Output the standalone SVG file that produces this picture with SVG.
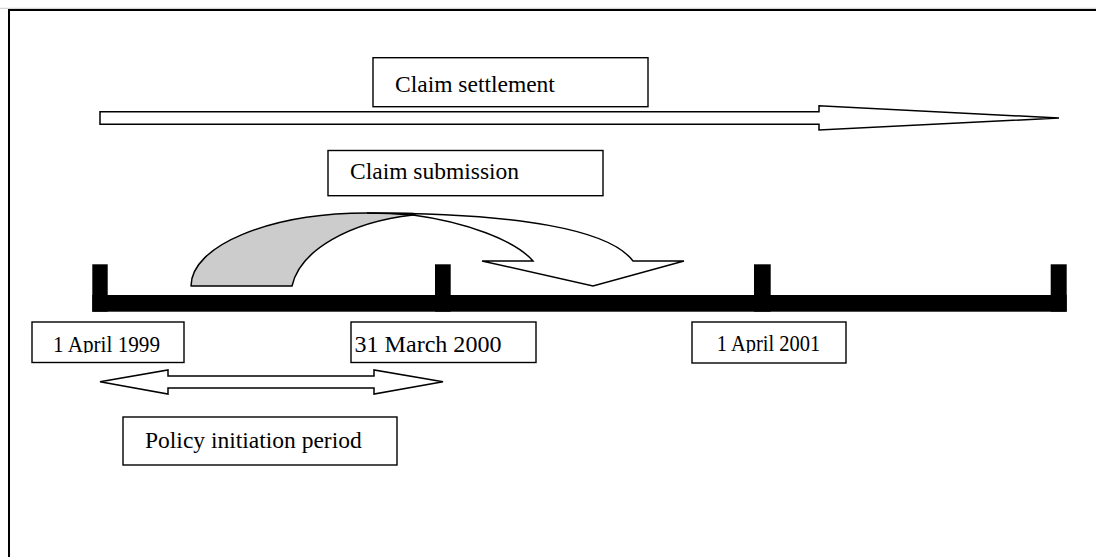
<svg xmlns="http://www.w3.org/2000/svg" width="1096" height="557" viewBox="0 0 1096 557">
<style>
.box{fill:#fff;stroke:#000;stroke-width:1.4}
.lbl{font-family:"Liberation Serif","Times New Roman",serif;font-size:23.5px;fill:#000}
.arr{fill:#fff;stroke:#000;stroke-width:1.5;stroke-linejoin:miter}
.tl{fill:#000}
</style>
<defs>
<clipPath id="c1"><rect x="32" y="322" width="152" height="31"/></clipPath>
<clipPath id="c2"><rect x="351" y="322" width="185" height="31"/></clipPath>
<clipPath id="c3"><rect x="692" y="322" width="154" height="31"/></clipPath>
</defs>
<rect width="1096" height="557" fill="#fff"/>
<g id="frame">
<line x1="0" y1="8.3" x2="1096" y2="8.3" stroke="#ccc" stroke-width="1"/>
<line x1="8" y1="10" x2="1096" y2="10" stroke="#000" stroke-width="2"/>
<line x1="9" y1="9" x2="9" y2="557" stroke="#000" stroke-width="2"/>
</g>
<g id="timeline">
<rect class="tl" x="92.3" y="295" width="974.4" height="16.7"/>
<rect class="tl" x="92.3" y="264.3" width="15.4" height="47.4"/>
<rect class="tl" x="435" y="264.3" width="15.7" height="47.4"/>
<rect class="tl" x="754" y="264.3" width="16.7" height="47.4"/>
<rect class="tl" x="1050.7" y="264.3" width="16" height="47.4"/>
</g>
<g id="connectors">
<polygon id="settlement-arrow" class="arr" points="100,111.7 819,111.7 819,105.7 1059,118 819,130 819,124.3 100,124.3"/>
<g id="submission-arrow">
<path d="M191,286 C191,245.7 269.8,213 367,213 L413,213.5 L413,215 C350,222 300,250 292,286 Z" fill="#ccc" stroke="#000" stroke-width="1.5" stroke-linejoin="round"/>
<path d="M367,213 C520,213 610,230 633,261 L684,261 L593,286 L482,261 L533,261 C515,240 465,222 413,215 C395,213.5 380,213 367,213 Z" fill="#fff" stroke="#000" stroke-width="1.5" stroke-linejoin="miter"/>
</g>
<polygon id="policy-arrow" class="arr" points="100,381.7 168,370 168,376 374,376 374,370 443,381.7 374,394 374,388 168,388 168,394"/>
</g>
<g id="claim-settlement">
<rect class="box" x="373" y="57.7" width="275" height="49"/>
<text class="lbl" x="395" y="91.5">Claim settlement</text>
</g>
<g id="claim-submission">
<rect class="box" x="328" y="150.5" width="275" height="45.2"/>
<text class="lbl" x="350" y="178.5">Claim submission</text>
</g>
<g id="date-1999">
<rect class="box" x="32" y="322" width="152" height="40.5"/>
<text class="lbl" x="53" y="352" textLength="107" lengthAdjust="spacingAndGlyphs" clip-path="url(#c1)">1 April 1999</text>
</g>
<g id="date-2000">
<rect class="box" x="351" y="322" width="185" height="40.5"/>
<text class="lbl" x="354.5" y="352" textLength="147" lengthAdjust="spacingAndGlyphs" clip-path="url(#c2)">31 March 2000</text>
</g>
<g id="date-2001">
<rect class="box" x="692" y="322" width="154" height="41"/>
<text class="lbl" x="716.7" y="351" textLength="103.5" lengthAdjust="spacingAndGlyphs" clip-path="url(#c3)">1 April 2001</text>
</g>
<g id="policy-period">
<rect class="box" x="123" y="417" width="274" height="48"/>
<text class="lbl" x="145" y="448">Policy initiation period</text>
</g>
</svg>
